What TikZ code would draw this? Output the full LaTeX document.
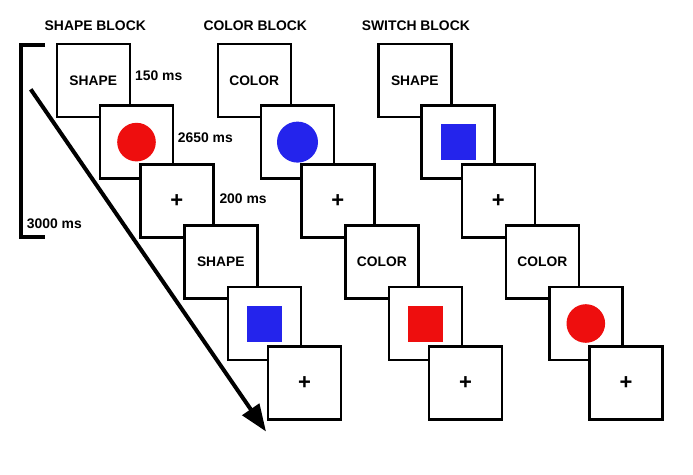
\documentclass[tikz,border=0pt]{standalone}
\usepackage{fontspec}
\setmainfont{Liberation Sans}
\usetikzlibrary{arrows.meta,calc}
\definecolor{stimred}{RGB}{238,14,14}
\definecolor{stimblue}{RGB}{36,36,236}
\begin{document}
\begin{tikzpicture}[x=1pt,y=-1pt,
  frame/.style={draw=black,fill=white,line width=2.4pt,minimum size=73pt,inner sep=0pt,
    font=\bfseries\fontsize{13.8}{16}\selectfont},
  title/.style={inner sep=0pt,font=\bfseries\fontsize{13.9}{16}\selectfont},
  timing/.style={inner sep=0pt,anchor=west,font=\bfseries\fontsize{13.9}{16}\selectfont},
  thick line/.style={line width=4pt}]
\useasboundingbox[fill=white] (0,0) rectangle (693,474);

% titles
\node[title] (t1) at (95.3,26) {SHAPE BLOCK};
\node[title] (t2) at (255.3,26) {COLOR BLOCK};
\node[title] (t3) at (415.8,26) {SWITCH BLOCK};

% timeline arrow
\coordinate (arrS) at (30.7,89.3);
\coordinate (arrE) at (266,431.5);
\draw[thick line,-{Triangle[length=27pt,width=20pt]}] (arrS) -- (arrE);

% bracket
\coordinate (brT) at (45,44.7);
\coordinate (brB) at (45,236.7);
\draw[thick line] (brT) -- (21,44.7) -- (21,236.7) -- (brB);
\node[timing] (l3000) at (26.7,224) {3000 ms};

% ---------- column 1 : SHAPE BLOCK ----------
\node[frame] (a1) at (93.2,80.5) {SHAPE};
\node[frame] (a2) at (136.5,142.1) {};
\fill[stimred] (a2.center) circle (19.3);
\node[frame] (a3) at (176.8,201.1) {\fontsize{22}{22}\selectfont +};
\node[frame] (a4) at (220.8,261.8) {SHAPE};
\node[frame] (a5) at (264.2,323.5) {};
\fill[stimblue] ($(a5.center)+(-17.5,-18)$) rectangle ++(35,36);
\node[frame] (a6) at (304.5,382.8) {\fontsize{22}{22}\selectfont +};

\node[timing] (l150) at (135,76) {150 ms};
\node[timing] (l2650) at (177.7,137.7) {2650 ms};
\node[timing] (l200) at (219.3,198.3) {200 ms};

% ---------- column 2 : COLOR BLOCK ----------
\node[frame] (b1) at (254.2,80.5) {COLOR};
\node[frame] (b2) at (297.5,142.1) {};
\fill[stimblue] (b2.center) circle (20.5);
\node[frame] (b3) at (337.8,201.1) {\fontsize{22}{22}\selectfont +};
\node[frame] (b4) at (381.8,261.8) {COLOR};
\node[frame] (b5) at (425.2,323.5) {};
\fill[stimred] ($(b5.center)+(-17.5,-18)$) rectangle ++(35,36);
\node[frame] (b6) at (465.5,382.8) {\fontsize{22}{22}\selectfont +};

% ---------- column 3 : SWITCH BLOCK ----------
\node[frame] (c1) at (414.8,80.5) {SHAPE};
\node[frame] (c2) at (458.1,142.1) {};
\fill[stimblue] ($(c2.center)+(-17.5,-18)$) rectangle ++(35,36);
\node[frame] (c3) at (498.4,201.1) {\fontsize{22}{22}\selectfont +};
\node[frame] (c4) at (542.4,261.8) {COLOR};
\node[frame] (c5) at (585.8,323.5) {};
\fill[stimred] (c5.center) circle (19.3);
\node[frame] (c6) at (626.1,382.8) {\fontsize{22}{22}\selectfont +};
\end{tikzpicture}
\end{document}
